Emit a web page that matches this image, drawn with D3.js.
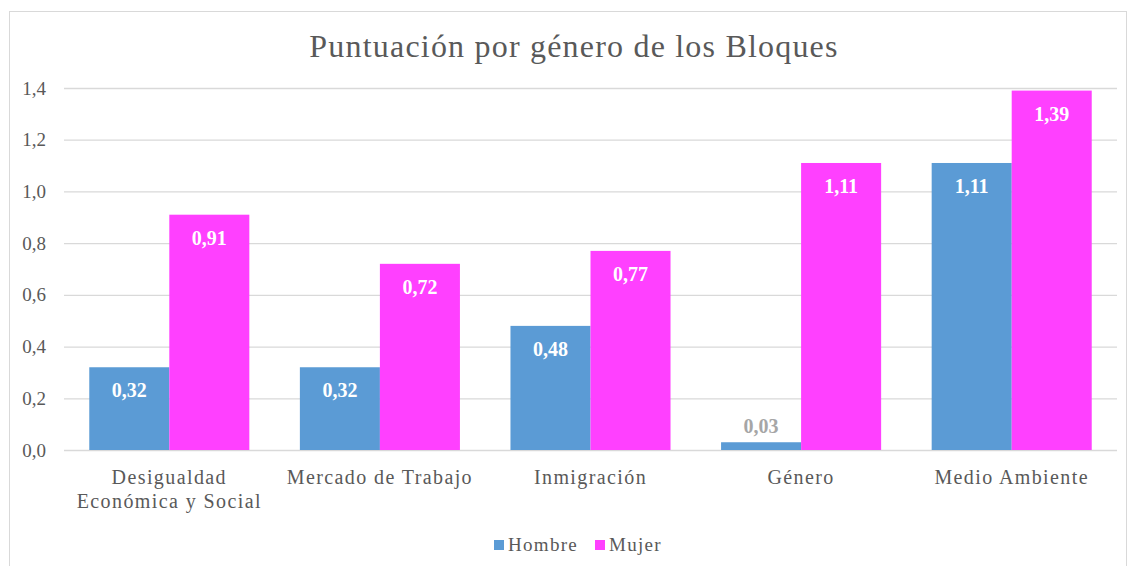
<!DOCTYPE html>
<html>
<head>
<meta charset="utf-8">
<script src="https://cdn.jsdelivr.net/npm/d3@7"></script>
<style>
  body { margin: 0; background: #fff; }
  text { font-family: "Liberation Serif", "Times New Roman", serif; }
</style>
</head>
<body>
<div class="canvas"></div>
<script>
const categories = [["Desigualdad", "Económica y Social"], ["Mercado de Trabajo"], ["Inmigración"], ["Género"], ["Medio Ambiente"]];
const series = ["Hombre", "Mujer"];
const hombre = [0.32, 0.32, 0.48, 0.03, 1.11];
const mujer = [0.91, 0.72, 0.77, 1.11, 1.39];
const yTicks = [0, 0.2, 0.4, 0.6, 0.8, 1.0, 1.2, 1.4];
const colors = ["#5B9BD5", "#FF40FF"];

const width = 1129, height = 566;
const plotLeft = 64, plotRight = 1117, plotTop = 88, plotBottom = 450;

const svg = d3.select(".canvas").append("svg")
  .attr("width", width).attr("height", height);

// chart frame
svg.append("rect").attr("x", 9.5).attr("y", 11.5)
  .attr("width", 1117).attr("height", 560)
  .attr("fill", "none").attr("stroke", "#d9d9d9");

// title
svg.append("text").attr("x", 574).attr("y", 57)
  .attr("text-anchor", "middle")
  .attr("font-size", 32).attr("letter-spacing", 1.2).attr("fill", "#595959")
  .text("Puntuación por género de los Bloques");

const x = d3.scaleBand().domain(d3.range(categories.length))
  .range([plotLeft, plotRight]).paddingInner(0.24).paddingOuter(0.12);
const xs = d3.scaleBand().domain(series).range([0, x.bandwidth()]);
const y = d3.scaleLinear().domain([0, 1.4]).range([plotBottom, plotTop]);

const fmt = v => d3.format(".1f")(v).replace(".", ",");
const fmt2 = v => d3.format(".2f")(v).replace(".", ",");

// gridlines
svg.append("g").selectAll("line").data(yTicks).join("line")
  .attr("x1", plotLeft).attr("x2", plotRight)
  .attr("y1", d => y(d) + 0.5).attr("y2", d => y(d) + 0.5)
  .attr("stroke", "#d9d9d9").attr("stroke-width", 1.3);

// y axis labels
const yAxis = svg.append("g").attr("transform", `translate(${plotLeft - 18},0)`)
  .call(d3.axisLeft(y).tickValues(yTicks).tickFormat(fmt).tickSize(0).tickPadding(0));
yAxis.select(".domain").remove();
yAxis.selectAll("text").attr("font-size", 19).attr("fill", "#595959")
  .attr("font-family", "Liberation Serif, serif").attr("dy", "0.32em");

// bars
const data = [hombre, mujer];
series.forEach((s, si) => {
  const g = svg.append("g");
  g.selectAll("rect").data(data[si]).join("rect")
    .attr("x", (d, i) => x(i) + xs(s))
    .attr("y", d => y(d))
    .attr("width", xs.bandwidth())
    .attr("height", d => plotBottom - y(d))
    .attr("fill", colors[si]);
  g.selectAll("text").data(data[si]).join("text")
    .attr("x", (d, i) => x(i) + xs(s) + xs.bandwidth() / 2)
    .attr("y", d => (plotBottom - y(d)) > 40 ? y(d) + 30 : y(d) - 9)
    .attr("text-anchor", "middle")
    .attr("font-size", 20).attr("font-weight", "bold")
    .attr("fill", d => (plotBottom - y(d)) > 40 ? "#fff" : "#a6a6a6")
    .text(fmt2);
});

// category labels
const cat = svg.append("g").selectAll("text").data(categories).join("text")
  .attr("x", (d, i) => x(i) + x.bandwidth() / 2)
  .attr("y", 484)
  .attr("text-anchor", "middle")
  .attr("font-size", 20).attr("letter-spacing", 1.4).attr("fill", "#595959");
cat.selectAll("tspan").data(d => d).join("tspan")
  .attr("x", function () { return this.parentNode.getAttribute("x"); })
  .attr("dy", (d, i) => i === 0 ? 0 : 24)
  .text(d => d);

// legend
const legendX = [494, 595];
const lg = svg.append("g").selectAll("g").data(series).join("g")
  .attr("transform", (d, i) => `translate(${legendX[i]},540)`);
lg.append("rect").attr("width", 10).attr("height", 10)
  .attr("fill", (d, i) => colors[i]);
lg.append("text").attr("x", 14).attr("y", 11)
  .attr("font-size", 19).attr("letter-spacing", 1.3)
  .attr("fill", "#595959").text(d => d);
</script>
</body>
</html>
